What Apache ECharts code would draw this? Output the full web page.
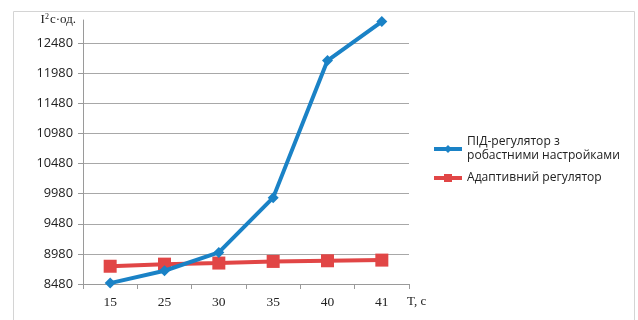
<!DOCTYPE html>
<html>
<head>
<meta charset="utf-8">
<script src="https://cdn.jsdelivr.net/npm/echarts@6/dist/echarts.min.js"></script>
<style>
  html, body { margin: 0; padding: 0; background: #ffffff; }
  #chart { width: 638px; height: 320px; }
</style>
</head>
<body>
<div id="chart"></div>
<script>
// Time points, s
const categories = ['15', '25', '30', '35', '40', '41'];
// Integral quality criterion values
const pidRobust = [8495, 8700, 9005, 9915, 12192, 12840];
const adaptive = [8775, 8810, 8828, 8855, 8866, 8877];
// Value axis range and step
const yMin = 8480;
const yMax = 12866;
const yStep = 500;

const seriesNames = ['ПІД-регулятор з\nробастними настройками', 'Адаптивний регулятор'];
const blue = '#1a82c6';
const red = '#e14646';

const chart = echarts.init(document.getElementById('chart'), null, { renderer: 'canvas' });

chart.setOption({
  animation: false,
  backgroundColor: '#ffffff',
  graphic: [{
    type: 'rect',
    shape: { x: 13.5, y: 11.5, width: 621, height: 330 },
    style: { fill: 'none', stroke: '#d4d4d4', lineWidth: 1 },
    silent: true
  }],
  grid: { left: 83, right: 229, top: 20, bottom: 35 },
  legend: {
    orient: 'vertical',
    left: 427,
    top: 130,
    itemWidth: 28,
    itemHeight: 10,
    itemGap: 8,
    data: [
      { name: seriesNames[0], lineStyle: { width: 4, color: blue } },
      { name: seriesNames[1], lineStyle: { width: 4, color: red } }
    ],
    textStyle: { fontFamily: 'Open Sans', fontSize: 12.1, color: '#222', lineHeight: 14 }
  },
  xAxis: {
    type: 'category',
    data: categories,
    boundaryGap: true,
    name: '\nT, с',
    nameLocation: 'end',
    nameGap: -2,
    nameTextStyle: {
      fontFamily: 'Liberation Serif', fontSize: 13, color: '#222',
      align: 'left', verticalAlign: 'middle', lineHeight: 36
    },
    axisLine: { lineStyle: { color: '#9a9a9a', width: 1 } },
    axisTick: { show: true, length: 5, lineStyle: { color: '#9a9a9a' } },
    axisLabel: { fontFamily: 'Liberation Serif', fontSize: 13.5, color: '#222', margin: 11 },
    splitLine: { show: false }
  },
  yAxis: {
    type: 'value',
    min: yMin,
    max: yMax,
    interval: yStep,
    name: '{a|I}{s|2}{a|с·од.}',
    nameLocation: 'end',
    nameGap: 0,
    nameTextStyle: {
      align: 'right', verticalAlign: 'middle', padding: [0, 7, 0, 0],
      rich: {
        a: { fontFamily: 'Liberation Serif', fontSize: 13, color: '#222' },
        s: { fontFamily: 'Liberation Serif', fontSize: 8, color: '#222', verticalAlign: 'top', padding: [0, 1, 7, 0] }
      }
    },
    axisLine: { show: true, lineStyle: { color: '#9a9a9a', width: 1 } },
    axisTick: { show: true, length: 5, lineStyle: { color: '#9a9a9a' } },
    axisLabel: {
      fontFamily: 'Open Sans', fontSize: 12.8, color: '#222', margin: 10, showMaxLabel: false,
      formatter: function (v) { return String(v); }
    },
    splitLine: { show: true, showMaxLine: false, lineStyle: { color: '#a8a8a8', width: 1 } }
  },
  series: [
    {
      name: seriesNames[0],
      type: 'line',
      data: pidRobust,
      symbol: 'diamond',
      symbolSize: 11,
      lineStyle: { color: blue, width: 4 },
      itemStyle: { color: blue },
      z: 3
    },
    {
      name: seriesNames[1],
      type: 'line',
      data: adaptive,
      symbol: 'rect',
      symbolSize: 13,
      lineStyle: { color: red, width: 4 },
      itemStyle: { color: red },
      z: 2
    }
  ]
});
</script>
</body>
</html>
